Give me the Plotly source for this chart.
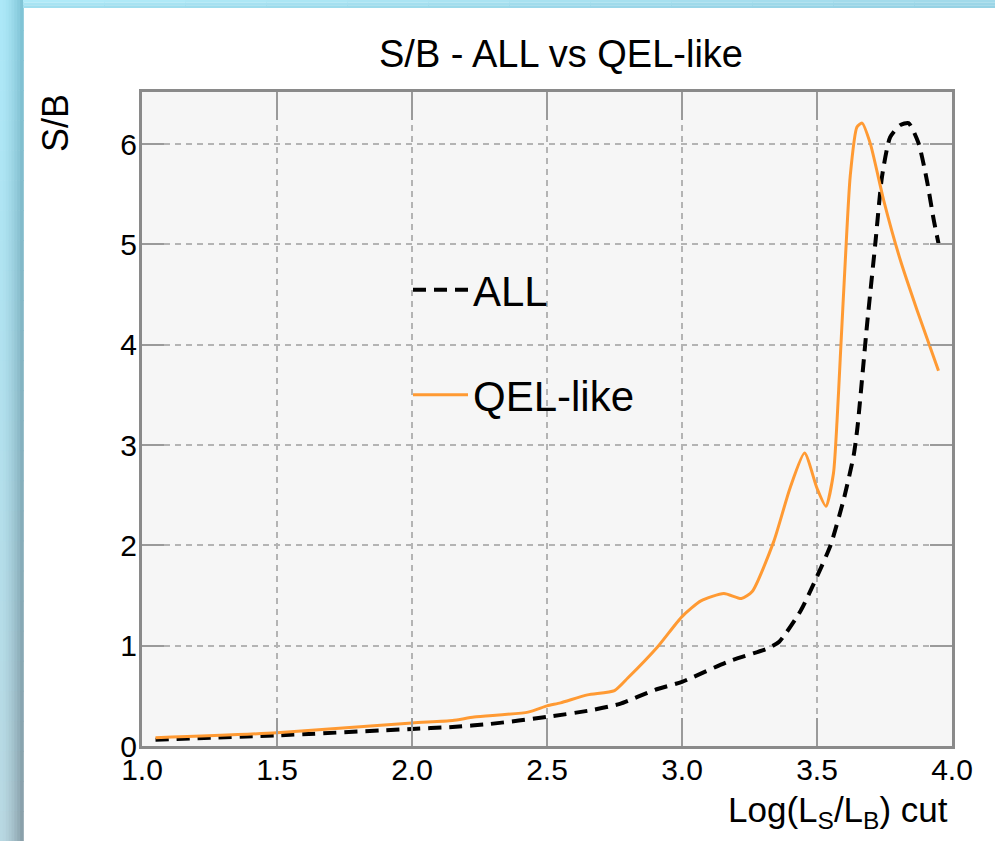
import plotly.graph_objects as go

# ---- data ----
all_x = [1.05, 1.5, 2.0, 2.15, 2.29, 2.5, 2.66, 2.77, 2.9, 3.0, 3.17, 3.32, 3.36, 3.44, 3.5,
         3.55, 3.6, 3.636, 3.65, 3.685, 3.716, 3.741, 3.771, 3.808, 3.839, 3.876, 3.907, 3.932, 3.95]
all_y = [0.063, 0.106, 0.17, 0.19, 0.22, 0.29, 0.355, 0.42, 0.56, 0.64, 0.84, 0.976, 1.04, 1.35, 1.69,
         2.0, 2.47, 2.90, 3.18, 4.19, 5.01, 5.68, 6.07, 6.19, 6.21, 6.01, 5.64, 5.25, 5.01]

qel_x = [1.05, 1.5, 2.0, 2.15, 2.23, 2.43, 2.5, 2.55, 2.65, 2.75, 2.8, 2.91, 3.0, 3.07, 3.155, 3.22,
         3.26, 3.34, 3.40, 3.454, 3.5, 3.533, 3.561, 3.574, 3.586, 3.605, 3.623, 3.648, 3.667,
         3.697, 3.747, 3.808, 3.87, 3.95]
qel_y = [0.082, 0.132, 0.23, 0.255, 0.288, 0.338, 0.40, 0.43, 0.51, 0.553, 0.68, 0.99, 1.29, 1.447, 1.52, 1.47,
         1.54, 2.04, 2.57, 2.92, 2.57, 2.39, 2.72, 3.23, 3.86, 4.85, 5.68, 6.17, 6.21,
         6.01, 5.44, 4.85, 4.35, 3.74]

x_ticks = [1.0, 1.5, 2.0, 2.5, 3.0, 3.5, 4.0]
y_ticks = [0, 1, 2, 3, 4, 5, 6]
X_RANGE = [1.0, 4.0]
Y_RANGE = [0.0, 6.52]

W, H = 995, 841
L, R, T, B = 142, 43, 92, 95
PW, PH = W - L - R, H - T - B

def px_x(p):
    return (p - L) / PW

def px_y(p):
    return (H - B - p) / PH

FONT = "Liberation Sans, Arial, Helvetica, sans-serif"
ORANGE = "#ff9a33"

fig = go.Figure()
fig.add_trace(go.Scatter(
    x=all_x, y=all_y, mode="lines", name="ALL",
    line=dict(color="black", width=4, dash="13px,8px", shape="spline", smoothing=0.6),
    legend="legend"))
fig.add_trace(go.Scatter(
    x=qel_x, y=qel_y, mode="lines", name="QEL-like",
    line=dict(color=ORANGE, width=3, shape="spline", smoothing=0.6),
    legend="legend2"))

# decorative blue frame (top and left bands with gradient)
shapes = []
def mix(c1, c2, t):
    return tuple(a + (b - a) * t for a, b in zip(c1, c2))

def hexc(c):
    return "#%02x%02x%02x" % tuple(int(round(v)) for v in c)

cols = 8
rows = 28
for i in range(cols):
    x0 = 23 * i / cols
    x1 = 23 * (i + 1) / cols
    tx = i / (cols - 1)
    for j in range(rows):
        y0 = H * j / rows
        y1 = H * (j + 1) / rows
        ty = j / (rows - 1)
        left = mix((172, 232, 248), (184, 216, 226), ty)
        right = mix((128, 196, 214), (138, 160, 170), ty)
        col = hexc(mix(left, right, tx ** 1.5))
        shapes.append(dict(type="rect", xref="paper", yref="paper",
                           x0=px_x(x0), x1=px_x(x1) + 0.001, y0=px_y(y1) - 0.001, y1=px_y(y0),
                           fillcolor=col, line=dict(width=0), layer="above"))
segs = 12
for i in range(segs):
    x0 = 23 + (W - 23) * i / segs
    x1 = 23 + (W - 23) * (i + 1) / segs
    t = i / (segs - 1)
    top = mix((176, 234, 248), (162, 218, 234), t)
    bot = mix((160, 222, 238), (150, 210, 228), t)
    for k in range(3):
        y0 = 8 * k / 3
        y1 = 8 * (k + 1) / 3
        shapes.append(dict(type="rect", xref="paper", yref="paper",
                           x0=px_x(x0), x1=px_x(x1) + 0.001, y0=px_y(y1), y1=px_y(y0),
                           fillcolor=hexc(mix(top, bot, k / 2)), line=dict(width=0), layer="above"))

axis_common = dict(
    showline=True, linecolor="#8a8a8a", linewidth=3, mirror="allticks",
    ticks="inside", tickcolor="#9a9a9a", tickwidth=2,
    showgrid=True, gridcolor="#b4b4b4", gridwidth=1.5, griddash="6px,5px",
    zeroline=False, tickfont=dict(family=FONT, size=30, color="black"),
)

fig.update_layout(
    width=W, height=H,
    margin=dict(l=L, r=R, t=T, b=B),
    paper_bgcolor="white",
    plot_bgcolor="#f6f6f6",
    font=dict(family=FONT, color="black"),
    title=dict(text="S/B - ALL vs QEL-like", x=561 / W, xanchor="center",
               y=1 - 54 / H, yanchor="middle", yref="container",
               font=dict(family=FONT, size=38, color="black")),
    xaxis=dict(range=X_RANGE, tickvals=x_ticks, ticktext=["%.1f" % v for v in x_ticks],
               ticklen=28, ticklabelstandoff=-5, **axis_common),
    yaxis=dict(range=Y_RANGE, tickvals=y_ticks, ticktext=[str(v) for v in y_ticks],
               ticklen=22, ticklabelstandoff=-4, **axis_common),
    legend=dict(x=px_x(408), y=px_y(290), xanchor="left", yanchor="middle",
                bgcolor="rgba(0,0,0,0)", borderwidth=0, itemwidth=55,
                font=dict(family=FONT, size=42, color="black")),
    legend2=dict(x=px_x(408), y=px_y(395), xanchor="left", yanchor="middle",
                 bgcolor="rgba(0,0,0,0)", borderwidth=0, itemwidth=55,
                 font=dict(family=FONT, size=42, color="black")),
    showlegend=True,
    shapes=shapes,
    annotations=[
        dict(text="S/B", textangle=-90, xref="paper", yref="paper",
             x=px_x(55), y=px_y(123), xanchor="center", yanchor="middle",
             showarrow=False, font=dict(family=FONT, size=36, color="black")),
        dict(text="Log(L<sub>S</sub>/L<sub>B</sub>) cut", xref="paper", yref="paper",
             x=px_x(950), y=px_y(812), xanchor="right", yanchor="middle",
             showarrow=False, font=dict(family=FONT, size=35, color="black")),
    ],
)

fig.write_html("out.html")
